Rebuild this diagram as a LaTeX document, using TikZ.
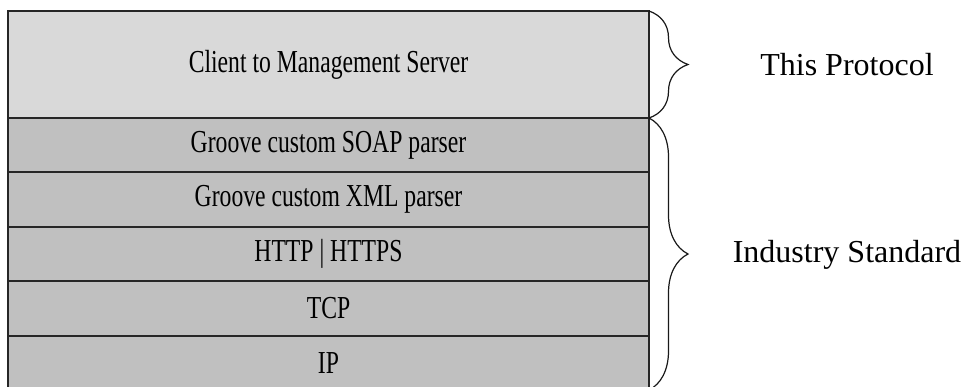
\documentclass[tikz,border=0pt]{standalone}
\usepackage{fontspec}
\usepackage{tikz}
\usepackage{xcolor}
\usetikzlibrary{positioning,decorations.pathreplacing}
\setmainfont{Liberation Serif}
\newfontfamily\narrowserif[FakeStretch=0.74]{Liberation Serif}
\definecolor{toplayer}{RGB}{217,217,217}
\definecolor{stdlayer}{RGB}{192,192,192}

\begin{document}
\begin{tikzpicture}[x=0.5pt,y=-0.5pt]
      \useasboundingbox(0,0) rectangle (963,386);
      \tikzset{L/.style = {shape=rectangle, draw=black!85, line width=1pt, outer sep=0pt, minimum width=320.5pt, minimum height=27.2pt, inner sep=0pt, fill=stdlayer, text=black, font=\narrowserif\fontsize{16}{19}\selectfont}}
      \tikzset{B/.style = {draw=black!90, line width=0.6pt, decorate, decoration={brace, amplitude=19.5pt}}}
      \tikzset{T/.style = {text=black, font=\fontsize{16}{19}\selectfont}}
      \node[L,fill=toplayer,minimum height=53.5pt](cms) at (328.5,64.5) {Client to Management Server};
      \node[L,below=0pt of cms](soap) {Groove custom SOAP parser};
      \node[L,below=0pt of soap](xml) {Groove custom XML parser};
      \node[L,below=0pt of xml](http) {HTTP | HTTPS};
      \node[L,below=0pt of http](tcp) {TCP};
      \node[L,below=0pt of tcp](ip) {IP};
      \draw[B](cms.north east) to (cms.south east);
      \draw[B](soap.north east) to (ip.south east);
      \node[T](proto) at (847,65) {This Protocol};
      \node[T](std) at (847,255) {Industry Standard};
    \end{tikzpicture}
\end{document}
